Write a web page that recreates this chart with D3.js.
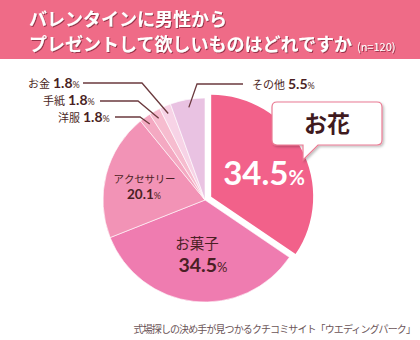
<!DOCTYPE html>
<html><head><meta charset="utf-8">
<script src="https://cdn.jsdelivr.net/npm/d3@7"></script>
<style>
html,body{margin:0;padding:0;background:#fff;}
svg{display:block;}
text{font-family:"Noto Sans CJK JP","Noto Sans",sans-serif;}
.num{font-family:Lato,"Noto Sans",sans-serif;}
</style></head>
<body>
<svg id="chart" width="420" height="340"></svg>
<script>
const titleLines = ["バレンタインに男性から", "プレゼントして欲しいものはどれですか"];
const sampleNote = "(n=120)";
const categories = ["お花", "お菓子", "アクセサリー", "洋服", "手紙", "お金", "その他"];
const values = [34.5, 34.5, 20.1, 1.8, 1.8, 1.8, 5.5];
const colors = ["#f2618a", "#ef7cb0", "#f293b6", "#f4a9c2", "#f6bccf", "#f7d3e6", "#e9c2e2"];
const source = "式場探しの決め手が見つかるクチコミサイト「ウエディングパーク」";

const svg = d3.select("#chart");
const defs = svg.append("defs");
const f = defs.append("filter").attr("id","tshadow").attr("x","-10%").attr("y","-30%").attr("width","120%").attr("height","160%");
f.append("feDropShadow").attr("dx",1).attr("dy",1).attr("stdDeviation",0.6).attr("flood-color","#7a2035").attr("flood-opacity",0.75);
const f2 = defs.append("filter").attr("id","bshadow").attr("x","-10%").attr("y","-20%").attr("width","130%").attr("height","150%");
f2.append("feDropShadow").attr("dx",1.5).attr("dy",1.5).attr("stdDeviation",1).attr("flood-color","#000").attr("flood-opacity",0.25);

// header
svg.append("rect").attr("x",0).attr("y",0).attr("width",420).attr("height",59).attr("fill","#ef6b87");
const tg = svg.append("g").attr("filter","url(#tshadow)");
tg.append("text").attr("x",29).attr("y",26).attr("fill","#fff").attr("font-size",18).attr("font-weight","bold").text(titleLines[0]);
const t2 = tg.append("text").attr("x",29).attr("y",51).attr("fill","#fff").attr("font-size",18).attr("font-weight","bold");
t2.append("tspan").text(titleLines[1]);
t2.append("tspan").attr("dx",5).attr("font-size",11).attr("font-weight","normal").text(sampleNote);

// pie
const cx = 205, cy = 200, R = 102;
const pie = d3.pie().sort(null).value(d => d.v);
const data = pie(categories.map((c,i)=>({c, v: values[i], col: colors[i]})));
const arc = d3.arc().innerRadius(0).outerRadius(R);
const g = svg.append("g").attr("transform",`translate(${cx},${cy})`);
const explode = 7;
g.selectAll("path").data(data).join("path")
  .attr("d", arc)
  .attr("fill", d => d.data.col)
  .attr("stroke", "#fff")
  .attr("stroke-width", (d,i)=> i===0 ? 0 : 0.6)
  .attr("transform", (d,i) => {
    if (i !== 0) return null;
    const a = (d.startAngle + d.endAngle)/2;
    return `translate(${explode*Math.sin(a)},${-explode*Math.cos(a)})`;
  });

function pt(d, r){ const a=(d.startAngle+d.endAngle)/2; return [cx + r*Math.sin(a), cy - r*Math.cos(a)]; }

// leader labels
const lineCol = "#6b3a3e", txtCol = "#4a1f24";
const leaders = [
  {i:5, elbow:[142,83], lineStart:83, tx:28, ty:88},
  {i:4, elbow:[138,101], lineStart:100, tx:43, ty:105},
  {i:3, elbow:[140,117], lineStart:115, tx:58, ty:122},
  {i:6, elbow:[197,84], lineStart:243, tx:252, ty:89},
];
leaders.forEach(L => {
  const d = data[L.i];
  const p = pt(d, 94);
  svg.append("polyline").attr("points", `${L.lineStart},${L.elbow[1]} ${L.elbow[0]},${L.elbow[1]} ${p[0]},${p[1]}`)
    .attr("fill","none").attr("stroke",lineCol).attr("stroke-width",1.3);
  const t = svg.append("text").attr("x",L.tx).attr("y",L.ty).attr("fill",txtCol);
  t.append("tspan").attr("font-size",11).text(categories[L.i]);
  t.append("tspan").attr("class","num").attr("dx",3).attr("font-size",14).attr("font-weight","bold").text(values[L.i].toFixed(1));
  t.append("tspan").attr("class","num").attr("font-size",9).text("%");
});

// inside labels (two-line labels as one text element)
{
  const t = svg.append("text").attr("y",183).attr("text-anchor","middle").attr("fill",txtCol);
  t.append("tspan").attr("x",144.5).attr("font-size",10.5).attr("letter-spacing",-0.2).text(categories[2]);
  const l2 = t.append("tspan").attr("x",144).attr("dy",16);
  l2.append("tspan").attr("class","num").attr("font-size",13.5).attr("font-weight","bold").text(values[2].toFixed(1));
  l2.append("tspan").attr("class","num").attr("font-size",9).text("%");
}
{
  const t = svg.append("text").attr("y",248.5).attr("text-anchor","middle").attr("fill",txtCol);
  t.append("tspan").attr("x",197).attr("font-size",14.5).text(categories[1]);
  const l2 = t.append("tspan").attr("x",203).attr("dy",23.5);
  l2.append("tspan").attr("class","num").attr("font-size",19.5).attr("font-weight","bold").text(values[1].toFixed(1));
  l2.append("tspan").attr("class","num").attr("font-size",13).text("%");
}
{
  const t2 = svg.append("text").attr("x",264).attr("y",185).attr("text-anchor","middle").attr("fill","#fff");
  t2.append("tspan").attr("class","num").attr("font-size",33).attr("font-weight","bold").text(values[0].toFixed(1));
  t2.append("tspan").attr("class","num").attr("font-size",20).attr("font-weight","bold").text("%");
}

// callout
const bx=272, by=102, bw=110, bh=43;
const callout = d3.path();
callout.moveTo(bx+5, by);
callout.lineTo(bx+bw-5, by); callout.quadraticCurveTo(bx+bw, by, bx+bw, by+5);
callout.lineTo(bx+bw, by+bh-5); callout.quadraticCurveTo(bx+bw, by+bh, bx+bw-5, by+bh);
callout.lineTo(318, by+bh); callout.lineTo(303, 160); callout.lineTo(303, by+bh);
callout.lineTo(bx+5, by+bh); callout.quadraticCurveTo(bx, by+bh, bx, by+bh-5);
callout.lineTo(bx, by+5); callout.quadraticCurveTo(bx, by, bx+5, by);
callout.closePath();
svg.append("path").attr("d", callout.toString()).attr("fill","#fff").attr("stroke","#ea7b93").attr("stroke-width",1.2).attr("filter","url(#bshadow)");
svg.append("text").attr("x",bx+bw/2).attr("y",132).attr("text-anchor","middle").attr("fill","#3f1a1e").attr("font-size",23).attr("font-weight","bold").text(categories[0]);

// source
svg.append("text").attr("x",415).attr("y",333).attr("text-anchor","end").attr("fill","#6b5558").attr("font-size",10).attr("letter-spacing",-0.9).text(source);
</script>
</body></html>
